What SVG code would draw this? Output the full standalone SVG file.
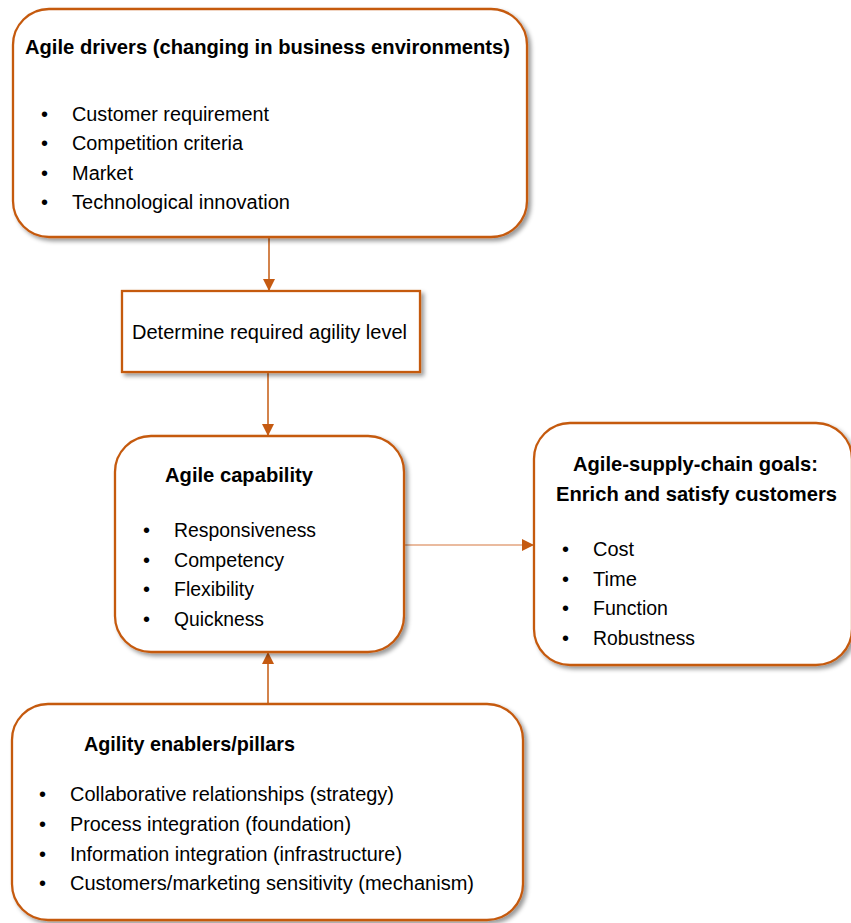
<svg xmlns="http://www.w3.org/2000/svg" width="851" height="923" viewBox="0 0 851 923">
<defs>
<filter id="sh" x="-10%" y="-10%" width="125%" height="125%">
<feDropShadow dx="3" dy="3" stdDeviation="2" flood-color="#000" flood-opacity="0.4"/>
</filter>
<marker id="ah" markerWidth="13" markerHeight="12" refX="12" refY="6" orient="auto" markerUnits="userSpaceOnUse">
<path d="M0,0 L12,6 L0,12 Z" fill="#C55A11"/>
</marker>
</defs>
<style>
.box{fill:#fff;stroke:#C55A11;stroke-width:2.3;filter:url(#sh)}
text{font-family:"Liberation Sans",Arial,sans-serif;fill:#000}
.t{font-size:21px;font-weight:bold}
.b{font-size:20px}
.c{stroke:#C55A11;stroke-width:1.5;fill:none}
.cl{stroke:#E3A57F;stroke-width:1.5;fill:none}
</style>
<g id="connectors">
<line class="c" x1="269" y1="237" x2="269" y2="291" marker-end="url(#ah)"/>
<line class="c" x1="268" y1="372" x2="268" y2="436" marker-end="url(#ah)"/>
<line class="cl" x1="404" y1="545" x2="534" y2="545" marker-end="url(#ah)"/>
<line class="c" x1="268" y1="704" x2="268" y2="652" marker-end="url(#ah)"/>
</g>
<g id="drivers">
<rect class="box" x="13" y="9" width="514" height="228" rx="36"/>
<text class="t" x="25" y="54" textLength="485" lengthAdjust="spacingAndGlyphs">Agile drivers (changing in business environments)</text>
<text class="b" x="41" y="121">•</text><text class="b" x="72" y="121" textLength="197" lengthAdjust="spacingAndGlyphs">Customer requirement</text>
<text class="b" x="41" y="150">•</text><text class="b" x="72" y="150" textLength="171" lengthAdjust="spacingAndGlyphs">Competition criteria</text>
<text class="b" x="41" y="180">•</text><text class="b" x="72" y="180" textLength="61" lengthAdjust="spacingAndGlyphs">Market</text>
<text class="b" x="41" y="209">•</text><text class="b" x="72" y="209" textLength="218" lengthAdjust="spacingAndGlyphs">Technological innovation</text>
</g>
<g id="level">
<rect class="box" x="122" y="291" width="298" height="81"/>
<text class="b" x="132" y="339" textLength="275" lengthAdjust="spacingAndGlyphs">Determine required agility level</text>
</g>
<g id="capability">
<rect class="box" x="115" y="436" width="289" height="216" rx="36"/>
<text class="t" x="165" y="482" textLength="148" lengthAdjust="spacingAndGlyphs">Agile capability</text>
<text class="b" x="143" y="537">•</text><text class="b" x="174" y="537" textLength="142" lengthAdjust="spacingAndGlyphs">Responsiveness</text>
<text class="b" x="143" y="567">•</text><text class="b" x="174" y="567" textLength="110" lengthAdjust="spacingAndGlyphs">Competency</text>
<text class="b" x="143" y="596">•</text><text class="b" x="174" y="596" textLength="80" lengthAdjust="spacingAndGlyphs">Flexibility</text>
<text class="b" x="143" y="626">•</text><text class="b" x="174" y="626" textLength="90" lengthAdjust="spacingAndGlyphs">Quickness</text>
</g>
<g id="goals">
<rect class="box" x="534" y="423" width="318" height="242" rx="36"/>
<text class="t" x="573" y="471" textLength="245" lengthAdjust="spacingAndGlyphs">Agile-supply-chain goals:</text>
<text class="t" x="556" y="501" textLength="281" lengthAdjust="spacingAndGlyphs">Enrich and satisfy  customers</text>
<text class="b" x="562" y="556">•</text><text class="b" x="593" y="556" textLength="41" lengthAdjust="spacingAndGlyphs">Cost</text>
<text class="b" x="562" y="586">•</text><text class="b" x="593" y="586" textLength="44" lengthAdjust="spacingAndGlyphs">Time</text>
<text class="b" x="562" y="615">•</text><text class="b" x="593" y="615" textLength="75" lengthAdjust="spacingAndGlyphs">Function</text>
<text class="b" x="562" y="645">•</text><text class="b" x="593" y="645" textLength="102" lengthAdjust="spacingAndGlyphs">Robustness</text>
</g>
<g id="enablers">
<rect class="box" x="12" y="704" width="511" height="216" rx="36"/>
<text class="t" x="84" y="751" textLength="211" lengthAdjust="spacingAndGlyphs">Agility enablers/pillars</text>
<text class="b" x="39" y="801">•</text><text class="b" x="70" y="801" textLength="324" lengthAdjust="spacingAndGlyphs">Collaborative relationships (strategy)</text>
<text class="b" x="39" y="831">•</text><text class="b" x="70" y="831" textLength="281" lengthAdjust="spacingAndGlyphs">Process integration (foundation)</text>
<text class="b" x="39" y="861">•</text><text class="b" x="70" y="861" textLength="332" lengthAdjust="spacingAndGlyphs">Information integration (infrastructure)</text>
<text class="b" x="39" y="890">•</text><text class="b" x="70" y="890" textLength="404" lengthAdjust="spacingAndGlyphs">Customers/marketing sensitivity (mechanism)</text>
</g>
</svg>
